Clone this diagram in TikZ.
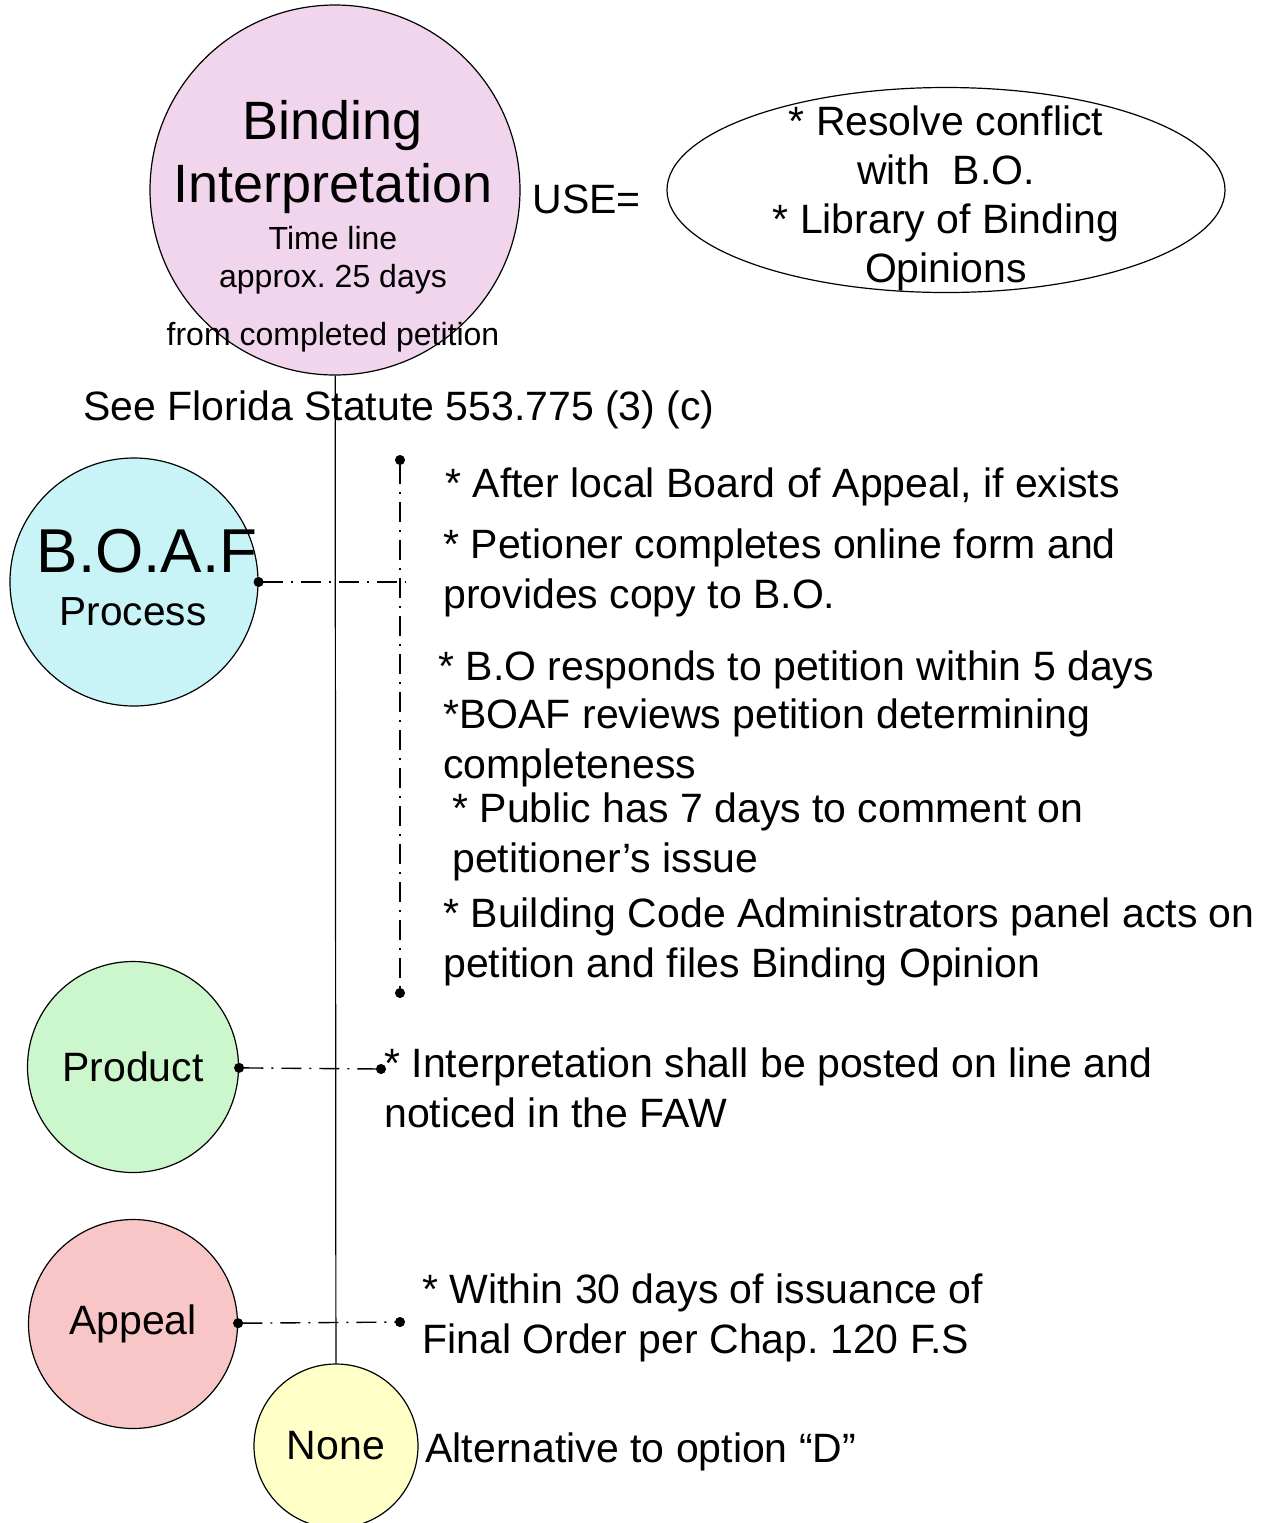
\documentclass[tikz,border=0pt]{standalone}
\usepackage{fontspec}
\setmainfont{Liberation Sans}
\usepackage{tikz}
\usetikzlibrary{positioning, arrows.meta, shapes.geometric}

\definecolor{bindpink}{RGB}{240,213,236}
\definecolor{boafcyan}{RGB}{200,244,247}
\definecolor{prodgreen}{RGB}{204,246,204}
\definecolor{appealred}{RGB}{248,198,198}
\definecolor{noneyellow}{RGB}{255,255,200}

\tikzset{
  stage/.style={circle, draw=black, line width=0.6pt, inner sep=0pt},
  note/.style={font=\fontsize{20.5}{24.6}\selectfont, align=left, anchor=base west, inner sep=0pt},
  leader/.style={line width=0.7pt, dash pattern=on 10pt off 4pt on 1pt off 4pt, shorten <=-2.5pt, shorten >=-2.5pt},
}

\begin{document}
\frenchspacing
\begin{tikzpicture}[x=0.5pt, y=-0.5pt, >={Circle[length=5pt]}]
\useasboundingbox (0,0) rectangle (1267,1523);

% binding interpretation
\node[stage, fill=bindpink, minimum size=185pt] (bind) at (335,190) {};
\node[font=\fontsize{27}{31.5}\selectfont, align=center, anchor=base, inner sep=0pt] (bindtitle) at (333,202) {Binding\\Interpretation};
\node[font=\fontsize{16}{19}\selectfont, align=center, anchor=base, inner sep=0pt] (bindtime) at (333,287) {Time line\\approx. 25 days};
\node[font=\fontsize{16}{19}\selectfont, anchor=base, inner sep=0pt] (bindfrom) at (333,345) {from completed petition};
\node[note] (use) at (532,213) {USE=};
\node[ellipse, draw=black, line width=0.6pt, minimum width=279pt, minimum height=102.5pt] (uses) at (946,190) {};
\node[font=\fontsize{20.5}{24.5}\selectfont, align=center, anchor=base, inner sep=0pt] (usetext) at (946,282) {* Resolve conflict\\with\ \ B.O.\\* Library of Binding\\Opinions};
\node[note] (statute) at (83,420) {See Florida Statute 553.775 (3) (c)};

% stages
\node[stage, fill=boafcyan, minimum size=124pt] (boaf) at (134,582) {};
\node[font=\fontsize{31}{36}\selectfont, anchor=base, inner sep=0pt] (boaftitle) at (147,572) {B.O.A.F};
\node[font=\fontsize{20.3}{24}\selectfont, anchor=base, inner sep=0pt] (boafsub) at (133,625) {Process};
\node[stage, fill=prodgreen, minimum size=105.5pt, font=\fontsize{20.5}{24.6}\selectfont] (prod) at (133,1067) {Product};
\node[stage, fill=appealred, minimum size=104.5pt, font=\fontsize{20.5}{24.6}\selectfont] (appeal) at (133,1324) {Appeal};
\node[stage, fill=noneyellow, minimum size=82pt, font=\fontsize{20.5}{24.6}\selectfont] (none) at (336,1446) {None};

\coordinate (boaftop) at (400,460);
\coordinate (boafbot) at (400,993);
\coordinate (boafmid) at (400,582);
\coordinate (prodend) at (381,1069);
\coordinate (appealend) at (400,1322);

% time line
\draw[line width=0.6pt] (bind) -- (none);
\draw[leader, <->] (boaftop) -- (boafbot);
\draw[leader, <-] (boaf) -- (boafmid);
\draw[leader, <->] (prod) -- (prodend);
\draw[leader, <->] (appeal) -- (appealend);

% notes
\node[note] (after) at (445,497) {* After local Board of Appeal, if exists};
\node[note] (petition) at (443,608) {* Petioner completes online form and\\provides copy to B.O.};
\node[note] (responds) at (438,680) {* B.O responds to petition within 5 days};
\node[note] (reviews) at (443,778) {*BOAF reviews petition determining\\completeness};
\node[note] (public) at (452,872) {* Public has 7 days to comment on\\petitioner’s issue};
\node[note] (panel) at (443,977) {* Building Code Administrators panel acts on\\petition and files Binding Opinion};
\node[note] (posted) at (384,1127) {* Interpretation shall be posted on line and\\noticed in the FAW};
\node[note] (within) at (422,1353) {* Within 30 days of issuance of\\Final Order per Chap. 120 F.S};
\node[note] (alt) at (425,1462) {Alternative to option “D”};
\end{tikzpicture}
\end{document}
